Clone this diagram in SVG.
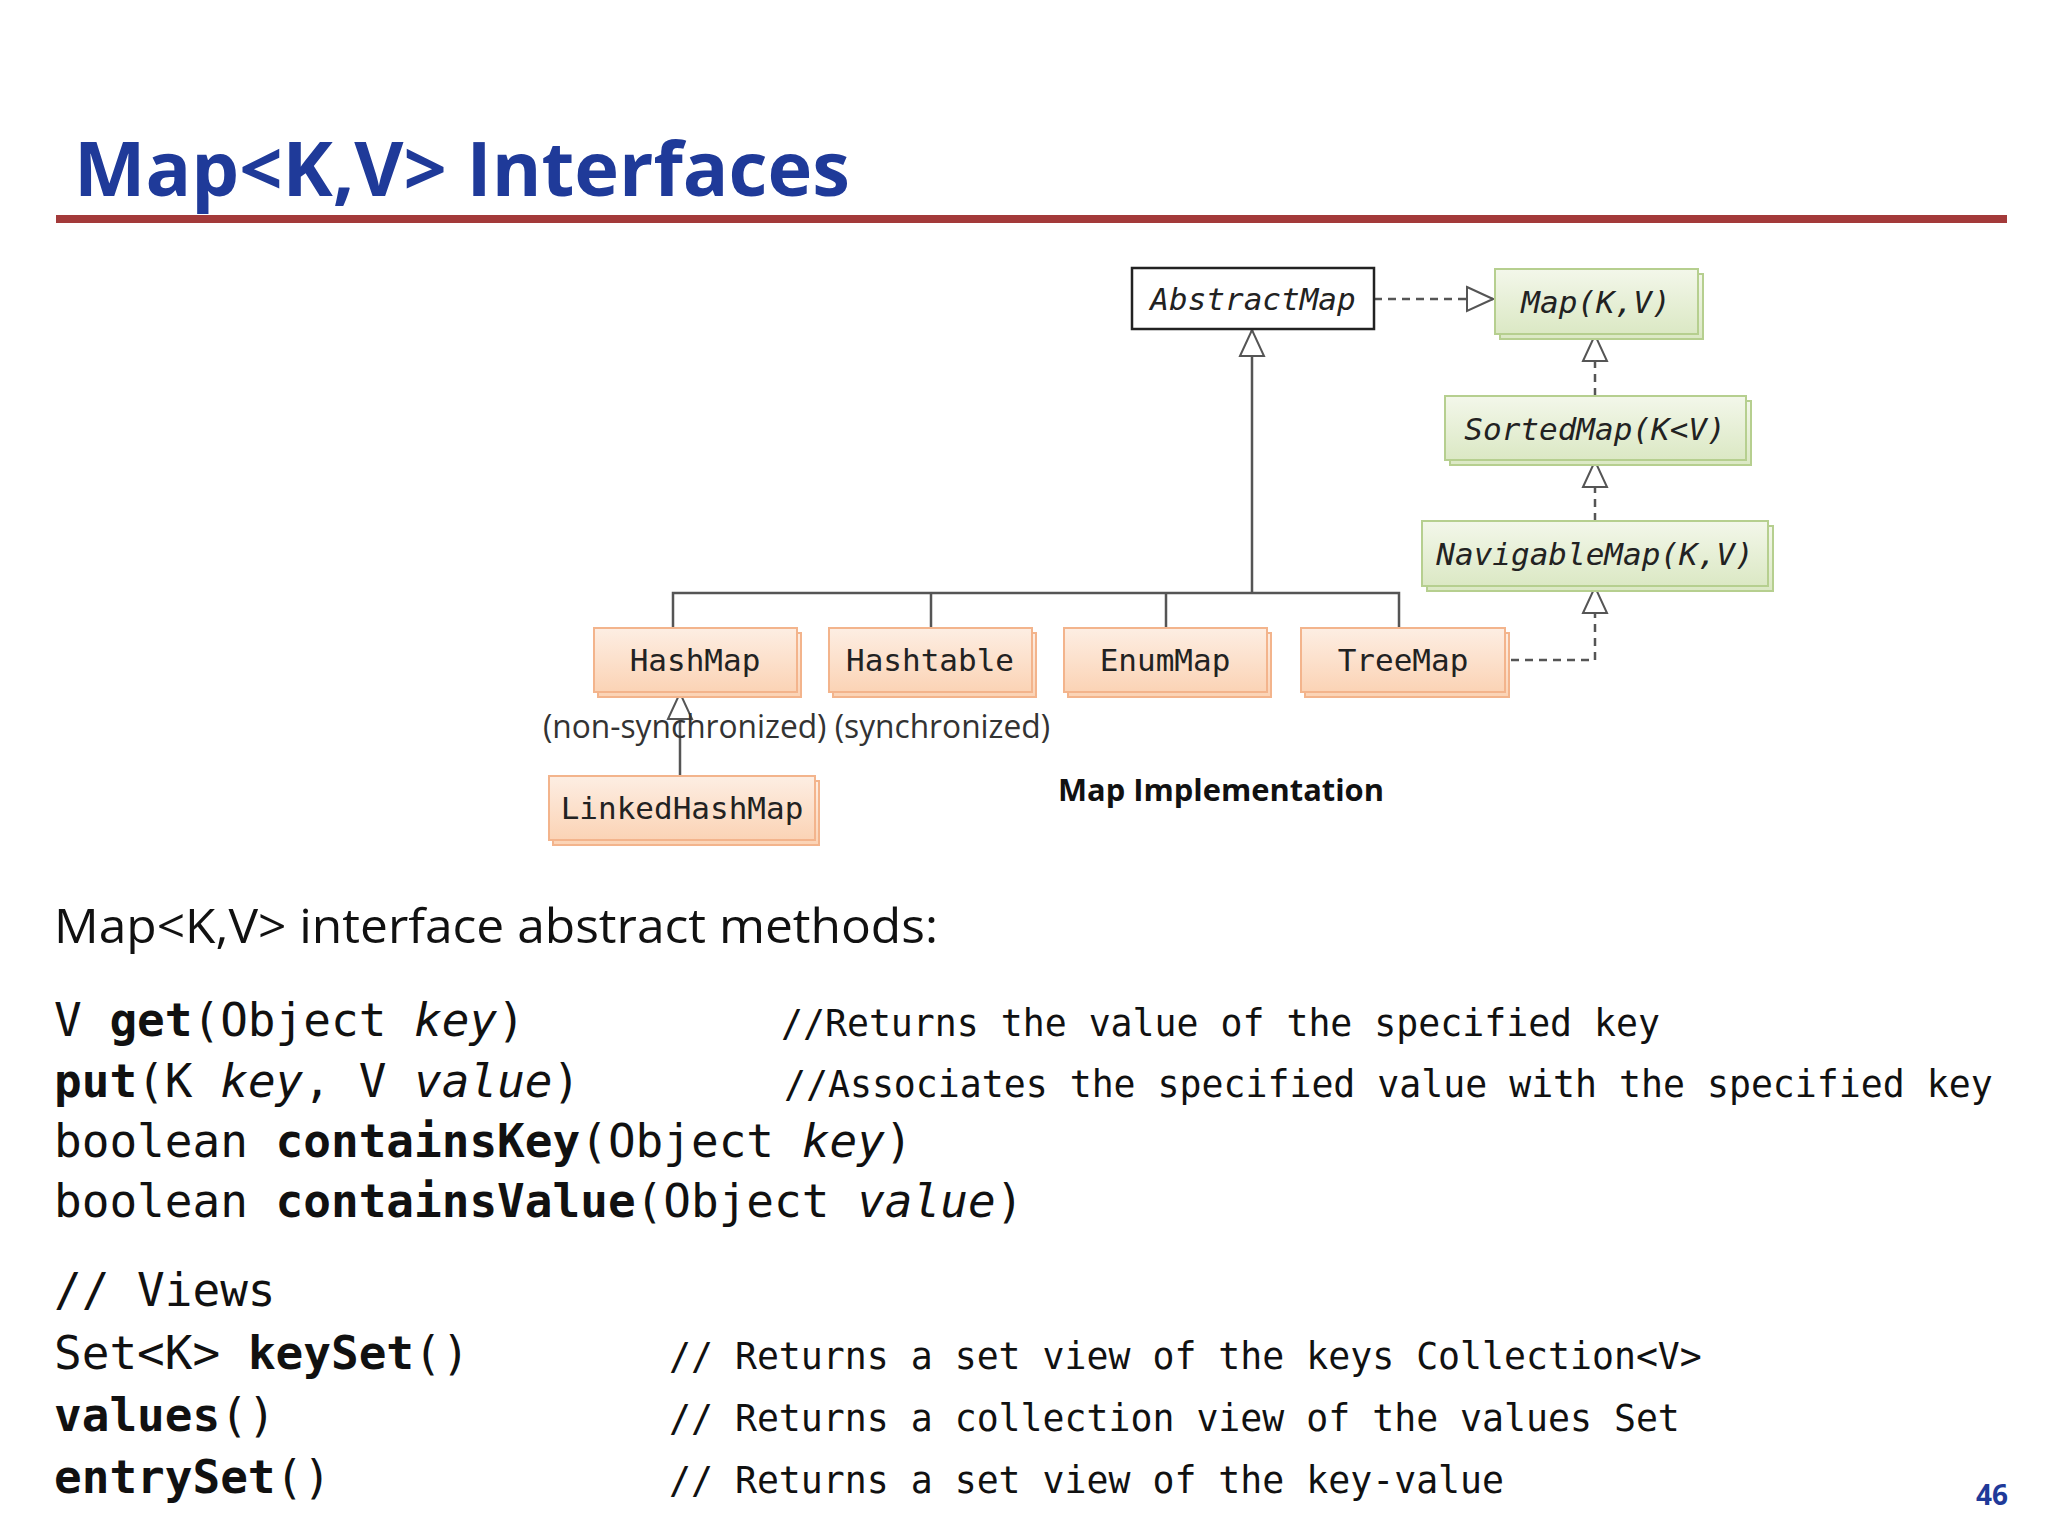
<svg xmlns="http://www.w3.org/2000/svg" width="2048" height="1536" viewBox="0 0 2048 1536">
<defs>
<linearGradient id="og" x1="0" y1="0" x2="0" y2="1"><stop offset="0" stop-color="#fdeee3"/><stop offset="1" stop-color="#fbd3b5"/></linearGradient>
<linearGradient id="gg" x1="0" y1="0" x2="0" y2="1"><stop offset="0" stop-color="#f3f7ea"/><stop offset="1" stop-color="#dbe8c4"/></linearGradient>
<marker id="tri" viewBox="0 0 20 20" refX="19" refY="10" markerWidth="20" markerHeight="20" markerUnits="userSpaceOnUse" orient="auto"><path d="M1,1 L19,10 L1,19 Z" fill="#fff" stroke="#555" stroke-width="1.8"/></marker>
<marker id="tri2" viewBox="0 0 28 28" refX="27" refY="14" markerWidth="28" markerHeight="28" markerUnits="userSpaceOnUse" orient="auto"><path d="M1,2 L27,14 L1,26 Z" fill="#fff" stroke="#555" stroke-width="2"/></marker>
</defs>
<style>
.o rect{fill:url(#og);stroke:#f3b48c;stroke-width:2}
.g rect{fill:url(#gg);stroke:#b6cf8f;stroke-width:2}
.sh{fill:#d8d8d8;stroke:none}
.nt{font-family:"DejaVu Sans Mono",monospace;font-size:31px;fill:#222;text-anchor:middle}
.it{font-style:italic}
.c{stroke:#555;stroke-width:2.5;fill:none}
.d{stroke-dasharray:8,6}
.m{font-family:"DejaVu Sans Mono","Liberation Mono",monospace;font-size:46px;fill:#111}
.cm{font-family:"DejaVu Sans Mono","Liberation Mono",monospace;font-size:36.5px;fill:#111}
b{font-weight:bold}
.bd{font-weight:bold}
</style>
<rect width="2048" height="1536" fill="#fff"/>
<text x="74" y="196" font-family="'Open Sans','Liberation Sans',sans-serif" font-weight="bold" font-size="76" fill="#1f3a99" textLength="776" lengthAdjust="spacingAndGlyphs">Map&lt;K,V&gt; Interfaces</text>
<rect x="56" y="215" width="1951" height="8" fill="#a33a3a"/>
<g id="connectors">
<path class="c d" d="M1374,299 H1493" marker-end="url(#tri2)"/>
<path class="c" d="M1252,593 V330" marker-end="url(#tri2)"/>
<path class="c" d="M673,628 V593 H1399 V628 M931,593 V628 M1166,593 V628"/>
<path class="c d" d="M1595,396 V335" marker-end="url(#tri2)"/>
<path class="c d" d="M1595,521 V461" marker-end="url(#tri2)"/>
<path class="c d" d="M1511,660 H1595 V587" marker-end="url(#tri2)"/>
<path class="c" d="M680,776 V693" marker-end="url(#tri2)"/>
</g>
<g id="AbstractMap"><rect x="1132" y="268" width="242" height="61" fill="#fff" stroke="#222" stroke-width="2.5"/><text class="nt it" x="1253" y="310">AbstractMap</text></g>
<g id="Map" class="g"><rect class="sh" x="1500" y="274" width="203" height="65"/><rect x="1495" y="269" width="203" height="65"/><text class="nt it" x="1596" y="313">Map(K,V)</text></g>
<g id="SortedMap" class="g"><rect class="sh" x="1450" y="401" width="301" height="64"/><rect x="1445" y="396" width="301" height="64"/><text class="nt it" x="1595" y="440">SortedMap(K&lt;V)</text></g>
<g id="NavigableMap" class="g"><rect class="sh" x="1427" y="526" width="346" height="65"/><rect x="1422" y="521" width="346" height="65"/><text class="nt it" x="1595" y="565">NavigableMap(K,V)</text></g>
<g id="HashMap" class="o"><rect class="sh" x="598" y="633" width="203" height="64"/><rect x="594" y="628" width="203" height="64"/><text class="nt" x="695" y="671">HashMap</text></g>
<g id="Hashtable" class="o"><rect class="sh" x="833" y="633" width="203" height="64"/><rect x="829" y="628" width="203" height="64"/><text class="nt" x="930" y="671">Hashtable</text></g>
<g id="EnumMap" class="o"><rect class="sh" x="1068" y="633" width="203" height="64"/><rect x="1064" y="628" width="203" height="64"/><text class="nt" x="1165" y="671">EnumMap</text></g>
<g id="TreeMap" class="o"><rect class="sh" x="1305" y="633" width="204" height="64"/><rect x="1301" y="628" width="204" height="64"/><text class="nt" x="1403" y="671">TreeMap</text></g>
<g id="LinkedHashMap" class="o"><rect class="sh" x="553" y="781" width="266" height="64"/><rect x="549" y="776" width="266" height="64"/><text class="nt" x="682" y="819">LinkedHashMap</text></g>
<text x="543" y="738" font-family="'Open Sans','Liberation Sans',sans-serif" font-size="32" fill="#333" textLength="507" lengthAdjust="spacingAndGlyphs">(non-synchronized) (synchronized)</text>
<text x="1058" y="801" font-family="'Open Sans','Liberation Sans',sans-serif" font-weight="bold" font-size="30" fill="#111" textLength="326" lengthAdjust="spacingAndGlyphs">Map Implementation</text>
<text x="54" y="943" font-family="'Open Sans','Liberation Sans',sans-serif" font-size="48" fill="#111" textLength="884" lengthAdjust="spacingAndGlyphs">Map&lt;K,V&gt; interface abstract methods:</text>
<text class="m" x="54" y="1036">V <tspan class="bd">get</tspan>(Object <tspan font-style="italic">key</tspan>)</text>
<text class="m" x="54" y="1097"><tspan class="bd">put</tspan>(K <tspan font-style="italic">key</tspan>, V <tspan font-style="italic">value</tspan>)</text>
<text class="m" x="54" y="1157">boolean <tspan class="bd">containsKey</tspan>(Object <tspan font-style="italic">key</tspan>)</text>
<text class="m" x="54" y="1217">boolean <tspan class="bd">containsValue</tspan>(Object <tspan font-style="italic">value</tspan>)</text>
<text class="m" x="54" y="1306">// Views</text>
<text class="m" x="54" y="1369">Set&lt;K&gt; <tspan class="bd">keySet</tspan>()</text>
<text class="m" x="54" y="1431"><tspan class="bd">values</tspan>()</text>
<text class="m" x="54" y="1493"><tspan class="bd">entrySet</tspan>()</text>
<text class="cm" x="781" y="1036">//Returns the value of the specified key</text>
<text class="cm" x="784" y="1097">//Associates the specified value with the specified key</text>
<text class="cm" x="669" y="1369">// Returns a set view of the keys Collection&lt;V&gt;</text>
<text class="cm" x="669" y="1431">// Returns a collection view of the values Set</text>
<text class="cm" x="669" y="1493">// Returns a set view of the key-value</text>
<text x="1976" y="1505" font-family="'Open Sans','Liberation Sans',sans-serif" font-weight="bold" font-size="28" fill="#1f3a99">46</text>
</svg>
